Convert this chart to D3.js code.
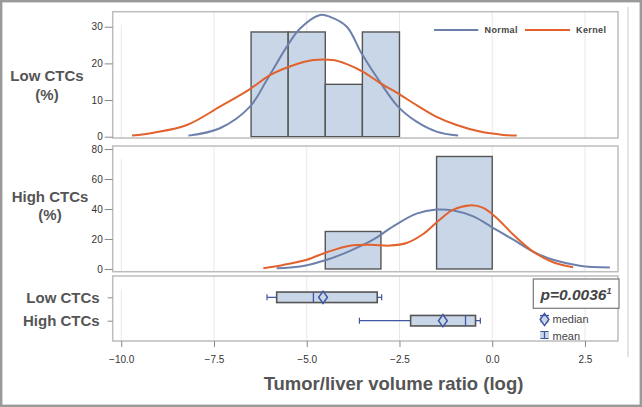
<!DOCTYPE html>
<html>
<head>
<meta charset="utf-8">
<script src="https://cdn.jsdelivr.net/npm/d3@7"></script>
<style>
  body { margin: 0; background: #fff; }
  svg { display: block; font-family: "Liberation Sans", Arial, sans-serif; }
</style>
</head>
<body>
<svg></svg>
<script>
//Canvas settings
var width = 642;
var height = 407;

//Histogram data (percent per bin)
var lowBinStart = [-6.5, -5.5, -4.5, -3.5];
var lowBinPct = [28.57, 28.57, 14.29, 28.57];
var lowBinWidth = 1;
var highBinStart = [-4.5, -3.0, -1.5];
var highBinPct = [25, 0, 75];
var highBinWidth = 1.5;

//Density curves: [x, percent]
var lowNormal = [[-8.19,0.3],[-7.34,2.3],[-6.53,8.2],[-6.08,15.4],[-5.54,24.5],[-5.18,29.5],[-4.64,33.2],
  [-4.37,32.7],[-3.92,30.0],[-3.52,22.7],[-3.03,15.0],[-2.54,8.2],[-2.04,4.1],[-1.50,1.4],[-0.92,0.3]];
var lowKernel = [[-9.71,0.3],[-9.13,1.1],[-8.23,3.2],[-7.34,8.2],[-6.53,13.0],[-5.99,16.8],[-5.36,19.5],
  [-4.82,20.9],[-4.29,20.9],[-3.92,19.8],[-3.48,17.7],[-3.03,14.7],[-2.54,11.8],[-2.04,8.6],[-1.50,5.4],
  [-0.96,3.2],[-0.33,1.4],[0.30,0.5],[0.66,0.3]];
var highNormal = [[-5.81,0.5],[-5.18,1.6],[-4.46,6.1],[-3.83,12.1],[-3.21,19.5],[-2.67,28.4],[-2.04,36.9],
  [-1.50,39.6],[-1.05,39.0],[-0.51,35.1],[0.03,27.3],[0.57,19.5],[1.10,11.6],[1.64,6.1],[2.36,2.2],[3.17,0.9]];
var highKernel = [[-6.17,0.5],[-5.63,2.7],[-5.00,6.1],[-4.46,11.2],[-3.83,15.5],[-3.29,16.1],[-2.76,15.6],
  [-2.31,17.3],[-1.86,23.3],[-1.41,33.0],[-1.05,39.6],[-0.60,42.4],[-0.24,40.7],[0.12,34.0],[0.57,22.8],
  [1.10,11.6],[1.64,4.5],[2.18,1.1]];

//Box plot stats
var boxGroups = ["Low CTCs", "High CTCs"];
var boxMin = [-6.07, -3.58];
var boxQ1 = [-5.81, -2.20];
var boxMean = [-4.82, -0.72];
var boxMedian = [-4.56, -1.33];
var boxQ3 = [-3.10, -0.45];
var boxMax = [-2.98, -0.32];

//Ticks
var xTicks = [-10.0, -7.5, -5.0, -2.5, 0.0, 2.5];
var lowTicks = [0, 10, 20, 30];
var highTicks = [0, 20, 40, 60, 80];

//Colors
var normalColor = "#6c80ab";
var kernelColor = "#e2612c";
var barFill = "#c9d6e7";
var darkLine = "#555";
var boxBlue = "#3f56a3";
var textGray = "#555";

var svg = d3.select("svg").attr("width", width).attr("height", height);

var left = 112.7, right = 618;
var x = d3.scaleLinear().domain([-10.23, 3.39]).range([left, right]);

var p1 = {top: 11.7, bottom: 138};
var p2 = {top: 146, bottom: 271.7};
var p3 = {top: 276, bottom: 341};

var y1 = d3.scaleLinear().domain([-0.35, 34.1]).range([p1.bottom, p1.top]);
var y2 = d3.scaleLinear().domain([-1.82, 82.0]).range([p2.bottom, p2.top]);
var yBox = d3.scalePoint().domain(boxGroups).range([297.3, 320.7]);

//outer frame
svg.append("rect").attr("x", 1.2).attr("y", 1.2).attr("width", width - 2.4).attr("height", height - 2.4)
  .attr("fill", "none").attr("stroke", "#9a9a9a").attr("stroke-width", 2.4);
svg.append("line").attr("x1", 628).attr("x2", 628).attr("y1", 7).attr("y2", 357)
  .attr("stroke", "#d4d4d4").attr("stroke-width", 1.2);

//gridlines for each panel
function drawGrid(p) {
  svg.append("g").selectAll("line").data(xTicks).enter().append("line")
    .attr("x1", function(d) { return x(d); })
    .attr("x2", function(d) { return x(d); })
    .attr("y1", function(d) { return d == -10 ? p.top + 13 : p.top; })
    .attr("y2", p.bottom)
    .attr("stroke", "#e8e8e8").attr("stroke-width", 1);
}
[p1, p2, p3].forEach(drawGrid);

//histograms
function drawBars(starts, pct, w, y) {
  svg.append("g").selectAll("rect").data(starts).enter().append("rect")
    .attr("x", function(d) { return x(d); })
    .attr("width", function(d) { return x(d + w) - x(d); })
    .attr("y", function(d, i) { return y(pct[i]); })
    .attr("height", function(d, i) { return y(0) - y(pct[i]); })
    .attr("fill", barFill).attr("stroke", darkLine).attr("stroke-width", 1.4);
}
drawBars(lowBinStart, lowBinPct, lowBinWidth, y1);
drawBars(highBinStart, highBinPct, highBinWidth, y2);

//density curves
function drawCurve(pts, y, color) {
  var line = d3.line()
    .x(function(d) { return x(d[0]); })
    .y(function(d) { return y(d[1]); })
    .curve(d3.curveCatmullRom.alpha(0.5));
  svg.append("path").datum(pts).attr("d", line)
    .attr("fill", "none").attr("stroke", color).attr("stroke-width", 2);
}
drawCurve(lowNormal, y1, normalColor);
drawCurve(lowKernel, y1, kernelColor);
drawCurve(highNormal, y2, normalColor);
drawCurve(highKernel, y2, kernelColor);

//panel borders
[p1, p2, p3].forEach(function(p) {
  svg.append("rect").attr("x", left).attr("y", p.top).attr("width", right - left).attr("height", p.bottom - p.top)
    .attr("fill", "none").attr("stroke", "#bdbdbd").attr("stroke-width", 1.5);
});

//y axes
function yAxis(scale, ticks) {
  var g = svg.append("g").attr("transform", "translate(" + left + ",0)")
    .call(d3.axisLeft(scale).tickValues(ticks).tickSize(8).tickPadding(2));
  g.select(".domain").remove();
  g.selectAll(".tick line").attr("stroke", "#888");
  g.selectAll("text").attr("fill", "#333").attr("font-size", "10px");
}
yAxis(y1, lowTicks);
yAxis(y2, highTicks);

var gb = svg.append("g").attr("transform", "translate(" + left + ",0)")
  .call(d3.axisLeft(yBox).tickSize(5).tickPadding(8));
gb.select(".domain").remove();
gb.selectAll(".tick line").attr("stroke", "#888");
gb.selectAll("text").attr("fill", textGray).attr("font-size", "15px").attr("font-weight", "bold");

//x axis
var gx = svg.append("g").attr("transform", "translate(0," + p3.bottom + ")")
  .call(d3.axisBottom(x).tickValues(xTicks).tickFormat(d3.format(".1f")).tickSize(6).tickPadding(9));
gx.select(".domain").remove();
gx.selectAll(".tick line").attr("stroke", "#888");
gx.selectAll("text").attr("fill", "#333").attr("font-size", "10px");

//panel labels
function panelLabel(lines, cx, y0) {
  var t = svg.append("text").attr("text-anchor", "middle").attr("fill", textGray)
    .attr("font-size", "15px").attr("font-weight", "bold");
  lines.forEach(function(s, i) {
    t.append("tspan").attr("x", cx).attr("y", y0 + i * 18.5).text(s);
  });
}
panelLabel(["Low CTCs", "(%)"], 47, 81);
panelLabel(["High CTCs", "(%)"], 50, 201.5);

svg.append("text").attr("x", 393.5).attr("y", 390).attr("text-anchor", "middle")
  .attr("fill", textGray).attr("font-size", "18.5px").attr("font-weight", "bold")
  .text("Tumor/liver volume ratio (log)");

//box plots
var boxH = 10.5;
var boxes = svg.append("g").selectAll("g").data(boxGroups).enter().append("g");
boxes.append("line")
  .attr("x1", function(d, i) { return x(boxMin[i]); })
  .attr("x2", function(d, i) { return x(boxMax[i]); })
  .attr("y1", function(d) { return yBox(d); })
  .attr("y2", function(d) { return yBox(d); })
  .attr("stroke", boxBlue).attr("stroke-width", 1.2);
[boxMin, boxMax].forEach(function(arr) {
  boxes.append("line")
    .attr("x1", function(d, i) { return x(arr[i]); })
    .attr("x2", function(d, i) { return x(arr[i]); })
    .attr("y1", function(d) { return yBox(d) - 3; })
    .attr("y2", function(d) { return yBox(d) + 3; })
    .attr("stroke", boxBlue).attr("stroke-width", 1.2);
});
boxes.append("rect")
  .attr("x", function(d, i) { return x(boxQ1[i]); })
  .attr("width", function(d, i) { return x(boxQ3[i]) - x(boxQ1[i]); })
  .attr("y", function(d) { return yBox(d) - boxH / 2; })
  .attr("height", boxH)
  .attr("fill", barFill).attr("stroke", darkLine).attr("stroke-width", 1.6);
boxes.append("line")
  .attr("x1", function(d, i) { return x(boxMean[i]); })
  .attr("x2", function(d, i) { return x(boxMean[i]); })
  .attr("y1", function(d) { return yBox(d) - boxH / 2; })
  .attr("y2", function(d) { return yBox(d) + boxH / 2; })
  .attr("stroke", boxBlue).attr("stroke-width", 1.3);
var diamond = d3.symbol().type(d3.symbolDiamond).size(42);
boxes.append("path")
  .attr("d", diamond)
  .attr("transform", function(d, i) { return "translate(" + x(boxMedian[i]) + "," + yBox(d) + ") scale(1.25,1)"; })
  .attr("fill", barFill).attr("stroke", boxBlue).attr("stroke-width", 1.3);

//p-value box
svg.append("rect").attr("x", 533.3).attr("y", 279).attr("width", 85.7).attr("height", 29.3)
  .attr("fill", "#fff").attr("stroke", "#777").attr("stroke-width", 1.2);
var pt = svg.append("text").attr("x", 540.5).attr("y", 300).attr("fill", "#444")
  .attr("font-size", "15.5px").attr("font-weight", "bold").attr("font-style", "italic");
pt.append("tspan").text("p=0.0036");
pt.append("tspan").attr("font-size", "9px").attr("dy", -6).text("1");

//box legend
var lg = svg.append("g");
lg.append("rect").attr("x", 540).attr("y", 315).attr("width", 9).attr("height", 8)
  .attr("fill", barFill);
lg.append("line").attr("x1", 540).attr("x2", 549).attr("y1", 315.5).attr("y2", 315.5)
  .attr("stroke", boxBlue).attr("stroke-width", 1.2);
lg.append("path").attr("d", diamond).attr("transform", "translate(544.5,319.5) scale(1.25,1)")
  .attr("fill", "none").attr("stroke", boxBlue).attr("stroke-width", 1.3);
lg.append("text").attr("x", 552.5).attr("y", 323).attr("fill", "#444").attr("font-size", "11px").text("median");
lg.append("rect").attr("x", 540).attr("y", 331).attr("width", 9).attr("height", 8).attr("fill", barFill);
lg.append("path").attr("d", "M540.5,331.5H548.5M544.5,331.5V338.5M540.5,338.5H548.5")
  .attr("fill", "none").attr("stroke", boxBlue).attr("stroke-width", 1.2);
lg.append("text").attr("x", 552.5).attr("y", 339.5).attr("fill", "#444").attr("font-size", "11px").text("mean");

//curve legend
var cl = svg.append("g");
cl.append("line").attr("x1", 434).attr("x2", 478.3).attr("y1", 30).attr("y2", 30)
  .attr("stroke", normalColor).attr("stroke-width", 2);
cl.append("text").attr("x", 484.5).attr("y", 33.2).attr("fill", "#444").attr("font-size", "9px")
  .attr("font-weight", "bold").attr("letter-spacing", "0.4px").text("Normal");
cl.append("line").attr("x1", 525).attr("x2", 570).attr("y1", 30).attr("y2", 30)
  .attr("stroke", kernelColor).attr("stroke-width", 2);
cl.append("text").attr("x", 576).attr("y", 33.2).attr("fill", "#444").attr("font-size", "9px")
  .attr("font-weight", "bold").attr("letter-spacing", "0.4px").text("Kernel");
</script>
</body>
</html>
